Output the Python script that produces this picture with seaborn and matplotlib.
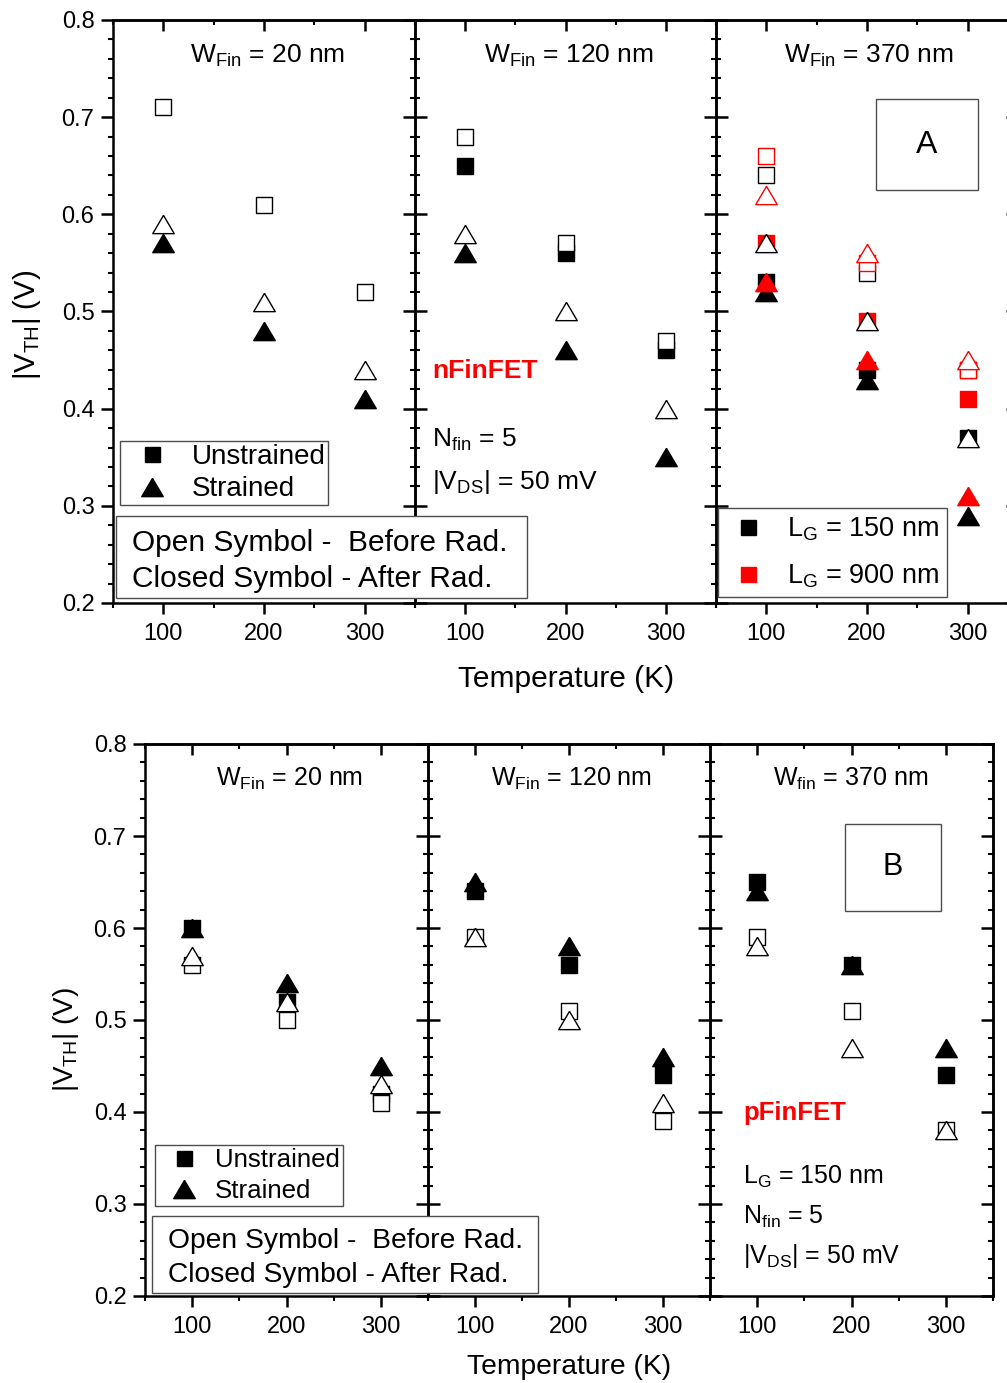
import numpy as np
import matplotlib
matplotlib.use("Agg")
import matplotlib.pyplot as plt
import seaborn as sns
from matplotlib.markers import MarkerStyle
from matplotlib.lines import Line2D
from matplotlib.patches import Rectangle
from matplotlib.ticker import FixedLocator

# ---------------- data ----------------
temps = [100, 200, 300]

# (A) nFinFET
n20_unstr_before = [0.71, 0.61, 0.52]
n20_str_before = [0.59, 0.51, 0.44]
n20_str_after = [0.57, 0.48, 0.41]

n120_unstr_before = [0.68, 0.57, 0.47]
n120_unstr_after = [0.65, 0.56, 0.46]
n120_str_before = [0.58, 0.50, 0.40]
n120_str_after = [0.56, 0.46, 0.35]

n370_lg150_unstr_before = [0.64, 0.54, 0.44]
n370_lg150_unstr_after = [0.53, 0.44, 0.37]
n370_lg150_str_before = [0.57, 0.49, 0.37]
n370_lg150_str_after = [0.52, 0.43, 0.29]
n370_lg900_unstr_before = [0.66, 0.55, 0.44]
n370_lg900_unstr_after = [0.57, 0.49, 0.41]
n370_lg900_str_before = [0.62, 0.56, 0.45]
n370_lg900_str_after = [0.53, 0.45, 0.31]

# (B) pFinFET
p20_unstr_before = [0.56, 0.50, 0.41]
p20_unstr_after = [0.60, 0.52, 0.42]
p20_str_before = [0.57, 0.52, 0.43]
p20_str_after = [0.60, 0.54, 0.45]

p120_unstr_before = [0.59, 0.51, 0.39]
p120_unstr_after = [0.64, 0.56, 0.44]
p120_str_before = [0.59, 0.50, 0.41]
p120_str_after = [0.65, 0.58, 0.46]

p370_unstr_before = [0.59, 0.51, 0.38]
p370_unstr_after = [0.65, 0.56, 0.44]
p370_str_before = [0.58, 0.47, 0.38]
p370_str_after = [0.64, 0.56, 0.47]

x_major = [100, 200, 300]
x_minor = [50, 150, 250, 350]
y_major = [0.2, 0.3, 0.4, 0.5, 0.6, 0.7, 0.8]
y_minor = [round(0.2 + 0.02 * i, 2) for i in range(31)]
y_labels = ["0.2", "0.3", "0.4", "0.5", "0.6", "0.7", "0.8"]

# ---------------- style ----------------
sns.set_style("ticks")
plt.rcParams['font.family'] = ['Liberation Sans', 'DejaVu Sans']
plt.rcParams['mathtext.fontset'] = 'custom'
plt.rcParams['mathtext.rm'] = 'Liberation Sans'
plt.rcParams['mathtext.it'] = 'Liberation Sans:italic'
plt.rcParams['mathtext.bf'] = 'Liberation Sans:bold'
for k in ['axes.edgecolor', 'xtick.color', 'ytick.color', 'text.color', 'axes.labelcolor']:
    plt.rcParams[k] = 'black'
plt.rcParams['axes.linewidth'] = 1.8

W, H = 1007, 1383
fig = plt.figure(figsize=(W / 100, H / 100), dpi=100)


def fx(x):
    return x / W


def fy(y):
    return 1 - y / H


TRI = MarkerStyle(np.array([[0, 0.85], [-1, -0.85], [1, -0.85], [0, 0.85]]), joinstyle='miter')
SQ = 's'
S_SQ = 118
S_TRI = 240
TICK_FS = 17


def make_axes(left, right, top, bottom, first, last):
    ax = fig.add_axes([fx(left), fy(bottom), (right - left) / W, (bottom - top) / H])
    ax.set_facecolor('none')
    ax.set_xlim(50, 350)
    ax.set_ylim(0.2, 0.8)
    ax.xaxis.set_major_locator(FixedLocator(x_major))
    ax.xaxis.set_minor_locator(FixedLocator(x_minor))
    ax.yaxis.set_major_locator(FixedLocator(y_major))
    ax.yaxis.set_minor_locator(FixedLocator(y_minor))
    ax.set_xticklabels([str(v) for v in x_major])
    ax.tick_params(axis='x', which='both', direction='out', top=False, bottom=True,
                   labelsize=TICK_FS, pad=6.5)
    ax.tick_params(axis='x', which='major', length=8.2, width=1.8)
    ax.tick_params(axis='x', which='minor', length=3.8, width=1.5)
    if first:
        ax.set_yticklabels(y_labels)
        ax.tick_params(axis='y', which='both', direction='out', left=True, right=False,
                       labelsize=TICK_FS, pad=5)
        ax.tick_params(axis='y', which='major', length=8.4, width=1.8)
        ax.tick_params(axis='y', which='minor', length=3.6, width=1.5)
    else:
        ax.tick_params(axis='y', which='both', direction='inout', left=True, right=False,
                       labelleft=False)
        ax.tick_params(axis='y', which='major', length=17, width=1.8)
        ax.tick_params(axis='y', which='minor', length=7.5, width=1.5)
    sec = ax.secondary_xaxis('top')
    sec.xaxis.set_major_locator(FixedLocator(x_major))
    sec.xaxis.set_minor_locator(FixedLocator(x_minor))
    sec.tick_params(axis='x', which='both', direction='in', labeltop=False)
    sec.tick_params(axis='x', which='major', length=8.2, width=1.8)
    sec.tick_params(axis='x', which='minor', length=3.8, width=1.5)
    if last:
        sy = ax.secondary_yaxis('right')
        sy.yaxis.set_major_locator(FixedLocator(y_major))
        sy.yaxis.set_minor_locator(FixedLocator(y_minor))
        sy.tick_params(axis='y', which='both', direction='in', labelright=False)
        sy.tick_params(axis='y', which='major', length=8.4, width=1.8)
        sy.tick_params(axis='y', which='minor', length=3.6, width=1.5)
    return ax


def pts(ax, y, marker, color, filled, z):
    s = S_TRI if marker is TRI else S_SQ
    sns.scatterplot(x=temps, y=y, ax=ax, marker=marker, s=s,
                    color=(color if filled else 'white'), edgecolor=color,
                    linewidth=1.0, zorder=z, legend=False, clip_on=False)


# ---------------- (A) top ----------------
a1 = make_axes(113, 415, 20, 603, True, False)
a2 = make_axes(415, 716, 20, 603, False, False)
a3 = make_axes(716, 1018, 20, 603, False, True)

pts(a1, n20_str_after, TRI, 'black', True, 3)
pts(a1, n20_unstr_before, SQ, 'black', False, 4)
pts(a1, n20_str_before, TRI, 'black', False, 5)

pts(a2, n120_unstr_after, SQ, 'black', True, 2)
pts(a2, n120_str_after, TRI, 'black', True, 3)
pts(a2, n120_unstr_before, SQ, 'black', False, 4)
pts(a2, n120_str_before, TRI, 'black', False, 5)

pts(a3, n370_lg150_unstr_after, SQ, 'black', True, 2)
pts(a3, n370_lg900_unstr_after, SQ, 'red', True, 2.1)
pts(a3, n370_lg150_str_after, TRI, 'black', True, 3)
pts(a3, n370_lg900_str_after, TRI, 'red', True, 3.1)
pts(a3, n370_lg150_unstr_before, SQ, 'black', False, 4)
pts(a3, n370_lg900_unstr_before, SQ, 'red', False, 4.1)
pts(a3, n370_lg150_str_before, TRI, 'black', False, 5)
pts(a3, n370_lg900_str_before, TRI, 'red', False, 5.1)

# ---------------- (B) bottom ----------------
b1 = make_axes(145, 428, 744, 1296, True, False)
b2 = make_axes(428, 710, 744, 1296, False, False)
b3 = make_axes(710, 993, 744, 1296, False, True)

for ax, ua, sa, ub, sb in [(b1, p20_unstr_after, p20_str_after, p20_unstr_before, p20_str_before),
                           (b2, p120_unstr_after, p120_str_after, p120_unstr_before, p120_str_before),
                           (b3, p370_unstr_after, p370_str_after, p370_unstr_before, p370_str_before)]:
    pts(ax, ua, SQ, 'black', True, 2)
    pts(ax, sa, TRI, 'black', True, 3)
    pts(ax, ub, SQ, 'black', False, 4)
    pts(ax, sb, TRI, 'black', False, 5)

# ---------------- legends ----------------
def h(marker, color, ms):
    return Line2D([], [], ls='none', marker=marker, ms=ms, mfc=color, mec=color, mew=1.0)


leg_common = dict(loc='upper left', bbox_transform=fig.transFigure, frameon=True,
                  fancybox=False, edgecolor='0.3', framealpha=1, borderaxespad=0)

l1 = a1.legend([h(SQ, 'black', 10.8), h(TRI, 'black', 15.5)], ['Unstrained', 'Strained'],
               bbox_to_anchor=(fx(120), fy(441)), fontsize=20, borderpad=0.09,
               labelspacing=0.25, handlelength=2.12, handletextpad=0.38, **leg_common)
l1.get_frame().set_linewidth(1.0)

l3 = a3.legend([h(SQ, 'black', 10.8), h(SQ, 'red', 10.8)],
               [r'L$_{\mathrm{G}}$ = 150 nm', r'L$_{\mathrm{G}}$ = 900 nm'],
               bbox_to_anchor=(fx(718), fy(508)), fontsize=19.5, borderpad=0.29,
               labelspacing=0.69, handlelength=1.63, handletextpad=0.62, **leg_common)
l3.get_frame().set_linewidth(1.0)

lb1 = b1.legend([h(SQ, 'black', 10.8), h(TRI, 'black', 15.5)], ['Unstrained', 'Strained'],
                bbox_to_anchor=(fx(155), fy(1145)), fontsize=18.6, borderpad=0.12,
                labelspacing=0.27, handlelength=2.0, handletextpad=0.21, **leg_common)
lb1.get_frame().set_linewidth(1.0)


def box(x0, y0, x1, y1):
    r = Rectangle((fx(x0), fy(y1)), (x1 - x0) / W, (y1 - y0) / H, transform=fig.transFigure,
                  facecolor='white', edgecolor='0.3', linewidth=1.0, zorder=10)
    fig.add_artist(r)


# open/closed symbol boxes
box(116, 516, 527, 598)
fig.text(fx(132), fy(551), 'Open Symbol -  Before Rad.', fontsize=21.5, zorder=11)
fig.text(fx(132), fy(587), 'Closed Symbol - After Rad.', fontsize=21.5, zorder=11)

box(152, 1216, 538, 1293)
fig.text(fx(168), fy(1248), 'Open Symbol -  Before Rad.', fontsize=20.3, zorder=11)
fig.text(fx(168), fy(1282), 'Closed Symbol - After Rad.', fontsize=20.3, zorder=11)

# A / B boxes
box(876, 99, 978, 190)
fig.text(fx(927), fy(145), 'A', fontsize=23, ha='center', va='center', zorder=11)
box(845, 824, 941, 911)
fig.text(fx(893), fy(867), 'B', fontsize=22, ha='center', va='center', zorder=11)

# ---------------- annotations ----------------
FS_T = 19
fig.text(fx(268), fy(63), r'W$_{\mathrm{Fin}}$ = 20 nm', fontsize=FS_T, ha='center', va='baseline')
fig.text(fx(569), fy(63), r'W$_{\mathrm{Fin}}$ = 120 nm', fontsize=FS_T, ha='center', va='baseline')
fig.text(fx(869), fy(63), r'W$_{\mathrm{Fin}}$ = 370 nm', fontsize=FS_T, ha='center', va='baseline')
fig.text(fx(432), fy(378), 'nFinFET', fontsize=19, fontweight='bold', color='red', va='baseline')
fig.text(fx(432), fy(447), r'N$_{\mathrm{fin}}$ = 5', fontsize=FS_T, va='baseline')
fig.text(fx(432), fy(489), r'|V$_{\mathrm{DS}}$| = 50 mV', fontsize=FS_T, va='baseline')

FS_B = 18
fig.text(fx(290), fy(786), r'W$_{\mathrm{Fin}}$ = 20 nm', fontsize=FS_B, ha='center', va='baseline')
fig.text(fx(572), fy(786), r'W$_{\mathrm{Fin}}$ = 120 nm', fontsize=FS_B, ha='center', va='baseline')
fig.text(fx(851), fy(786), r'W$_{\mathrm{fin}}$ = 370 nm', fontsize=FS_B, ha='center', va='baseline')
fig.text(fx(743), fy(1120), 'pFinFET', fontsize=18.5, fontweight='bold', color='red', va='baseline')
fig.text(fx(743), fy(1184), r'L$_{\mathrm{G}}$ = 150 nm', fontsize=FS_B, va='baseline')
fig.text(fx(743), fy(1224), r'N$_{\mathrm{fin}}$ = 5', fontsize=FS_B, va='baseline')
fig.text(fx(743), fy(1263), r'|V$_{\mathrm{DS}}$| = 50 mV', fontsize=FS_B, va='baseline')

# axis titles
fig.text(fx(27), fy(325), r'|V$_{\mathrm{TH}}$| (V)', fontsize=21, rotation=90, ha='center', va='center')
fig.text(fx(566), fy(679), 'Temperature (K)', fontsize=21.5, ha='center', va='center')
fig.text(fx(66), fy(1040), r'|V$_{\mathrm{TH}}$| (V)', fontsize=20, rotation=90, ha='center', va='center')
fig.text(fx(569), fy(1367), 'Temperature (K)', fontsize=20.3, ha='center', va='center')

fig.savefig('out.png', dpi=100)
